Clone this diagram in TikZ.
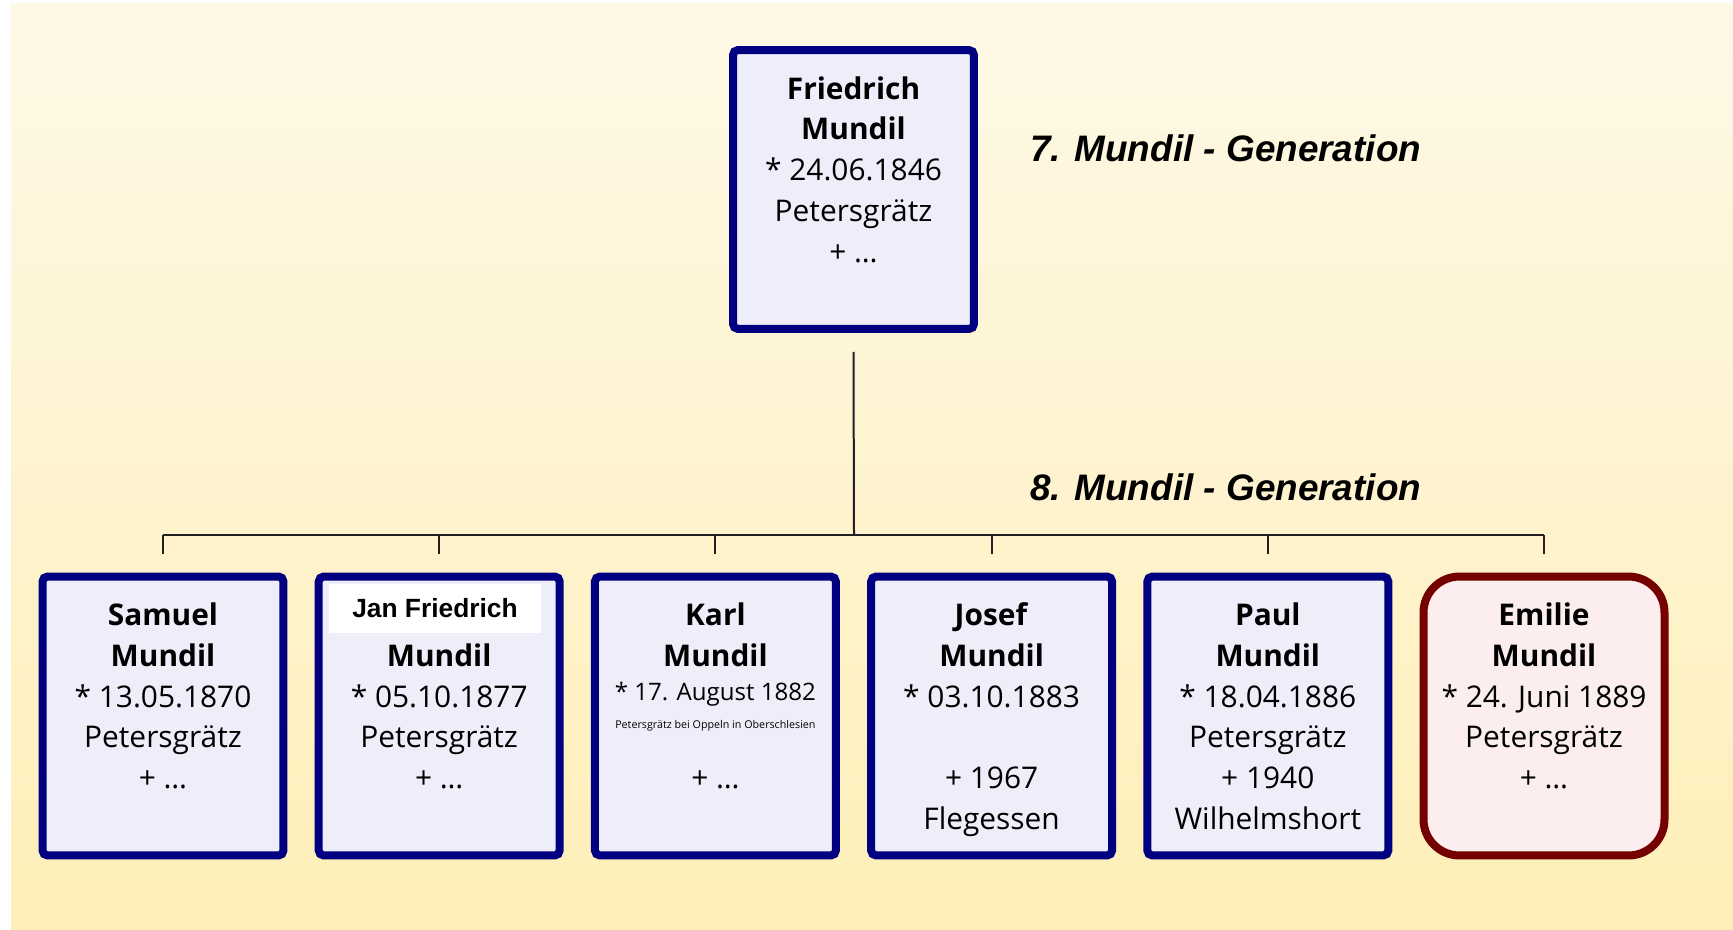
\documentclass[tikz,border=0pt]{standalone}
\usepackage{fontspec}
\setmainfont{Open Sans}
\newfontfamily\arialfont{Liberation Sans}
\usetikzlibrary{positioning}
\definecolor{boxblue}{HTML}{000080}
\definecolor{boxfill}{HTML}{EEEEFB}
\definecolor{girlred}{HTML}{750000}
\definecolor{girlfill}{HTML}{FCEEEE}
\definecolor{bgtop}{HTML}{FEF8E7}
\definecolor{bgbottom}{HTML}{FEEFB8}
\definecolor{linkgray}{HTML}{202020}
\newcommand\topstrut{\rule{0pt}{20pt}}

\begin{document}
\begin{tikzpicture}[x=0.02cm, y=-0.02cm,
  person/.style={draw=boxblue, fill=boxfill, line width=0.16cm, rounded corners=0.1cm,
    minimum width=4.82cm, minimum height=5.58cm, inner sep=2pt, align=center,
    font=\fontsize{17}{23.2}\selectfont},
  daughter/.style={person, draw=girlred, fill=girlfill, rounded corners=0.72cm},
  link/.style={draw=linkgray, line width=0.04cm},
  gen/.style={anchor=base west, font=\arialfont\bfseries\itshape\fontsize{21}{26}\selectfont}]
  \useasboundingbox (0,0) rectangle (1733,929);
  \fill [top color=bgtop, bottom color=bgbottom] (11,4) rectangle (1733,929);

  \node [person] (fried) at (853.5,189.5)
    {\topstrut\textbf{Friedrich}\\ \textbf{Mundil}\\ * 24.06.1846\\ Petersgrätz\\ + …\\ \strut};

  \node [person] (samuel) at (163,716)
    {\topstrut\textbf{Samuel}\\ \textbf{Mundil}\\ * 13.05.1870\\ Petersgrätz\\ + …\\ \strut};
  \node [person] (jan) at (439.2,716)
    {\topstrut\\ \textbf{Mundil}\\ * 05.10.1877\\ Petersgrätz\\ + …\\ \strut};
  \node [person] (karl) at (715.4,716)
    {\topstrut\textbf{Karl}\\ \textbf{Mundil}\\[-4pt]
     {\fontsize{13.7}{23.2}\selectfont * 17. August 1882}\\[-7pt]
     {\fontsize{6.1}{23.2}\selectfont Petersgrätz bei Oppeln in Oberschlesien}\\[11pt]
     + …\\ \strut};
  \node [person] (josef) at (991.6,716)
    {\topstrut\textbf{Josef}\\ \textbf{Mundil}\\ * 03.10.1883\\ \strut\\ + 1967\\ \strut Flegessen};
  \node [person] (paul) at (1267.8,716)
    {\topstrut\textbf{Paul}\\ \textbf{Mundil}\\ * 18.04.1886\\ Petersgrätz\\ + 1940\\ \strut Wilhelmshort};
  \node [daughter] (emilie) at (1544,716)
    {\topstrut\textbf{Emilie}\\ \textbf{Mundil}\\ * 24. Juni 1889\\ Petersgrätz\\ + …\\ \strut};

  \node [fill=white, minimum width=4.24cm, minimum height=0.98cm, inner sep=0pt,
    font=\arialfont\bfseries\fontsize{15}{18}\selectfont] (janname) at (435,608.5) {Jan Friedrich};

  \node [gen] (gen7) at (1024,162) {7. Mundil - Generation};
  \node [gen] (gen8) at (1024,500) {8. Mundil - Generation};

  \coordinate (bar) at (854,535);
  \draw [link] ([yshift=-0.38cm]fried.south) -- (bar);
  \draw [link] (bar -| samuel.north) -- (bar -| emilie.north);
  \foreach \c in {samuel,jan,karl,josef,paul,emilie}
    \draw [link] (bar -| \c.north) -- ([yshift=0.38cm]\c.north);
\end{tikzpicture}
\end{document}
